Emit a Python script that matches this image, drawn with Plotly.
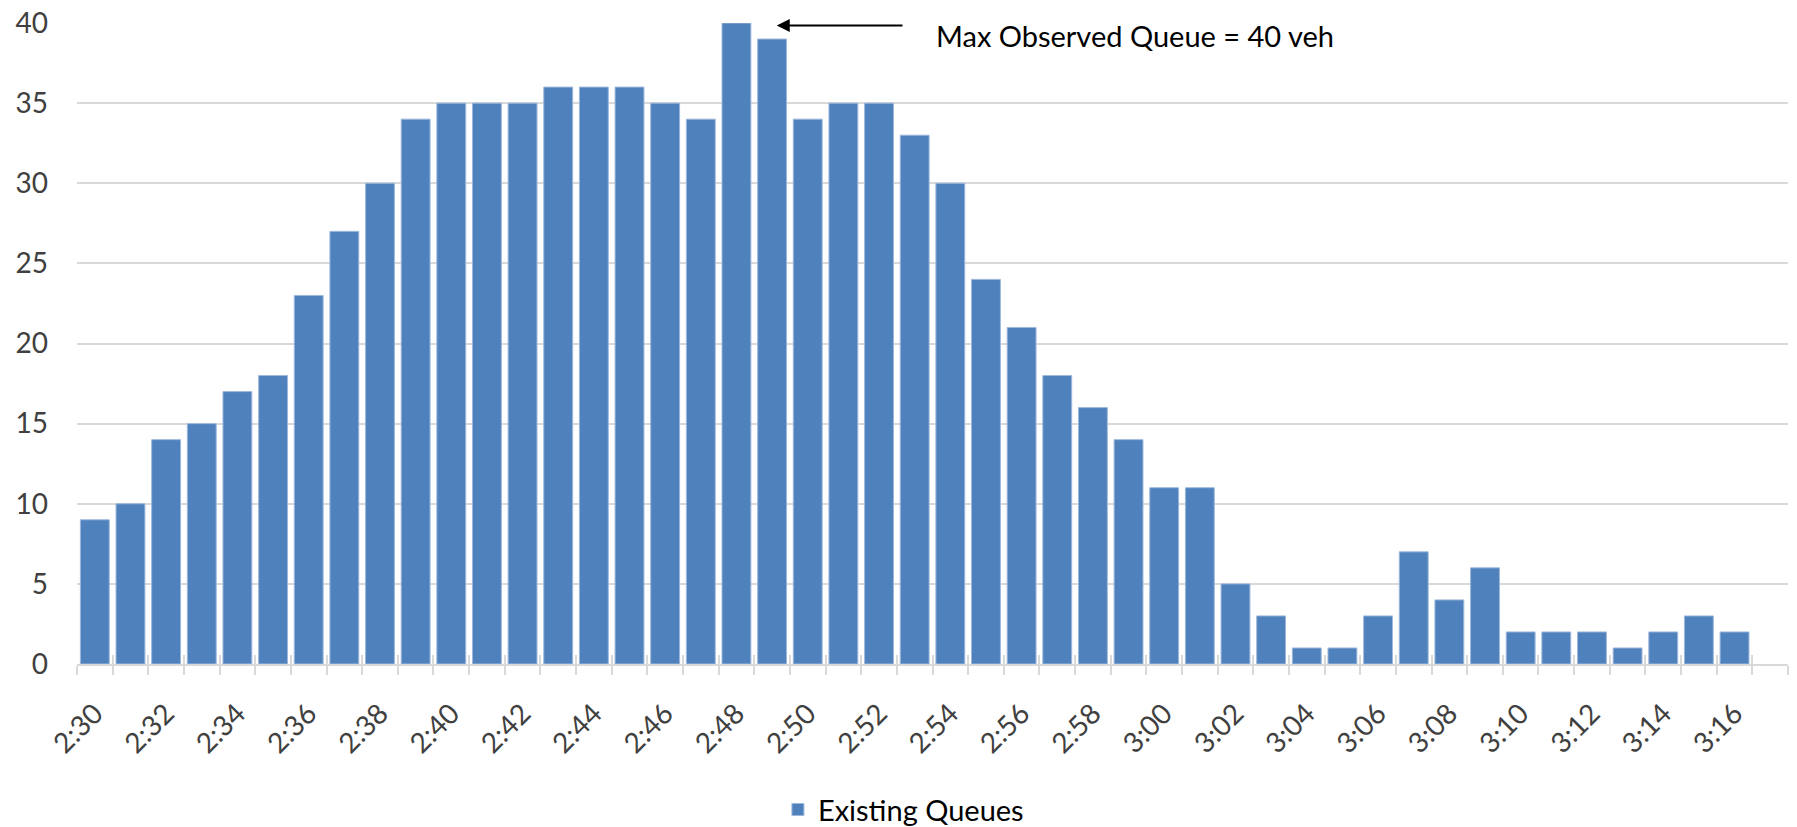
import plotly.graph_objects as go

# Minute-by-minute queue observations
times = [
    "2:30", "2:31", "2:32", "2:33", "2:34", "2:35", "2:36", "2:37", "2:38", "2:39",
    "2:40", "2:41", "2:42", "2:43", "2:44", "2:45", "2:46", "2:47", "2:48", "2:49",
    "2:50", "2:51", "2:52", "2:53", "2:54", "2:55", "2:56", "2:57", "2:58", "2:59",
    "3:00", "3:01", "3:02", "3:03", "3:04", "3:05", "3:06", "3:07", "3:08", "3:09",
    "3:10", "3:11", "3:12", "3:13", "3:14", "3:15", "3:16", "3:17",
]
queues = [
    9, 10, 14, 15, 17, 18, 23, 27, 30, 34,
    35, 35, 35, 36, 36, 36, 35, 34, 40, 39,
    34, 35, 35, 33, 30, 24, 21, 18, 16, 14,
    11, 11, 5, 3, 1, 1, 3, 7, 4, 6,
    2, 2, 2, 1, 2, 3, 2, None,
]
# every other minute is labelled
tick_text = [t if i % 2 == 0 else "" for i, t in enumerate(times)]
y_ticks = [0, 5, 10, 15, 20, 25, 30, 35, 40]

max_q = max(q for q in queues if q is not None)
max_label = f"Max Observed Queue = {max_q} veh"

FONT = "Lato, Open Sans, sans-serif"
BLUE = "#4F81BD"
GRID = "#d9d9d9"
TICK_SIZE = 28
TEXT_SIZE = 29

fig = go.Figure()
fig.add_trace(go.Bar(
    x=times, y=queues, name="Existing Queues",
    marker=dict(color=BLUE, line=dict(color="#9db8dc", width=1)),
))
# helper trace so the upper half of the crossing tick marks can be drawn
fig.add_trace(go.Scatter(x=times, y=[None] * len(times), xaxis="x2",
                         showlegend=False, hoverinfo="skip"))

fig.update_layout(
    width=1797, height=827,
    margin=dict(l=77, r=9, t=23, b=163, autoexpand=False),
    plot_bgcolor="white", paper_bgcolor="white",
    bargap=0.19,
    font=dict(family=FONT, size=TICK_SIZE, color="#404040"),
    showlegend=True,
    legend=dict(orientation="h", x=0.483, xanchor="center",
                yref="container", y=0.021, yanchor="middle",
                font=dict(family=FONT, size=TEXT_SIZE, color="#000000")),
    xaxis=dict(
        type="category", categoryorder="array", categoryarray=times,
        range=[-0.5, len(times) - 0.5], automargin=False,
        tickmode="array", tickvals=times, ticktext=tick_text,
        tickson="boundaries", ticks="outside", ticklen=9, tickcolor=GRID, tickwidth=2,
        tickangle=-45, showgrid=False,
        showline=True, linecolor=GRID, linewidth=2,
        ticklabelstandoff=20,
        tickfont=dict(family=FONT, size=TICK_SIZE, color="#404040"),
    ),
    xaxis2=dict(
        type="category", categoryorder="array", categoryarray=times,
        overlaying="x", matches="x", anchor="y", side="bottom", automargin=False,
        tickmode="array", tickvals=times, ticktext=[""] * len(times),
        tickson="boundaries", ticks="inside", ticklen=9, tickcolor=GRID, tickwidth=2,
        showgrid=False, showline=False,
    ),
    yaxis=dict(
        range=[0, 40], tickmode="array", tickvals=y_ticks, automargin=False,
        showgrid=True, gridcolor=GRID, gridwidth=2,
        zeroline=False, showline=False, ticks="",
        ticklabelstandoff=28,
        tickfont=dict(family=FONT, size=TICK_SIZE, color="#404040"),
    ),
)

peak_idx = queues.index(max_q)
fig.add_annotation(
    x=peak_idx + 1.13, y=39.85, xref="x", yref="y",
    ax=peak_idx + 4.7, ay=39.85, axref="x", ayref="y",
    text="", showarrow=True, arrowhead=2, arrowsize=1.3, arrowwidth=2, arrowcolor="#000000",
)
fig.add_annotation(
    x=peak_idx + 5.55, y=39.2, xref="x", yref="y",
    text=max_label, showarrow=False, xanchor="left", yanchor="middle",
    font=dict(family=FONT, size=TEXT_SIZE, color="#000000"),
)

fig.write_html("out.html")
